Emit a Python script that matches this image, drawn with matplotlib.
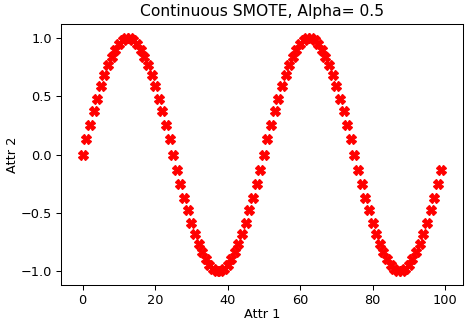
import numpy as np
import matplotlib
matplotlib.use("Agg")
import matplotlib.pyplot as plt

# values (two periods of a wave, 100 samples)
attr2 = [
    0.00, 0.13, 0.25, 0.37, 0.48, 0.59, 0.68, 0.77, 0.84, 0.90,
    0.95, 0.98, 1.00, 1.00, 0.98, 0.95, 0.90, 0.84, 0.77, 0.68,
    0.59, 0.48, 0.37, 0.25, 0.13, 0.00, -0.13, -0.25, -0.37, -0.48,
    -0.59, -0.68, -0.77, -0.84, -0.90, -0.95, -0.98, -1.00, -1.00, -0.98,
    -0.95, -0.90, -0.84, -0.77, -0.68, -0.59, -0.48, -0.37, -0.25, -0.13,
    0.00, 0.13, 0.25, 0.37, 0.48, 0.59, 0.68, 0.77, 0.84, 0.90,
    0.95, 0.98, 1.00, 1.00, 0.98, 0.95, 0.90, 0.84, 0.77, 0.68,
    0.59, 0.48, 0.37, 0.25, 0.13, 0.00, -0.13, -0.25, -0.37, -0.48,
    -0.59, -0.68, -0.77, -0.84, -0.90, -0.95, -0.98, -1.00, -1.00, -0.98,
    -0.95, -0.90, -0.84, -0.77, -0.68, -0.59, -0.48, -0.37, -0.25, -0.13,
]
attr1 = np.arange(len(attr2))

dpi = 93
fig = plt.figure(figsize=(465 / dpi, 325 / dpi), dpi=dpi)
ax = fig.add_axes([0.131, 0.123, 0.865, 0.803])

ax.plot(attr1, attr2, "X", color="red", markersize=7.5, linestyle="none")

ax.set_xlabel("Attr 1", labelpad=1)
ax.set_ylabel("Attr 2", labelpad=1)
ax.set_title("Continuous SMOTE, Alpha= 0.5")
ax.set_xticks([0, 20, 40, 60, 80, 100])
ax.set_yticks([-1.0, -0.5, 0.0, 0.5, 1.0])
ax.set_xlim(-6, 105)
ax.set_ylim(-1.12, 1.12)

fig.savefig("out.png", dpi=dpi)
